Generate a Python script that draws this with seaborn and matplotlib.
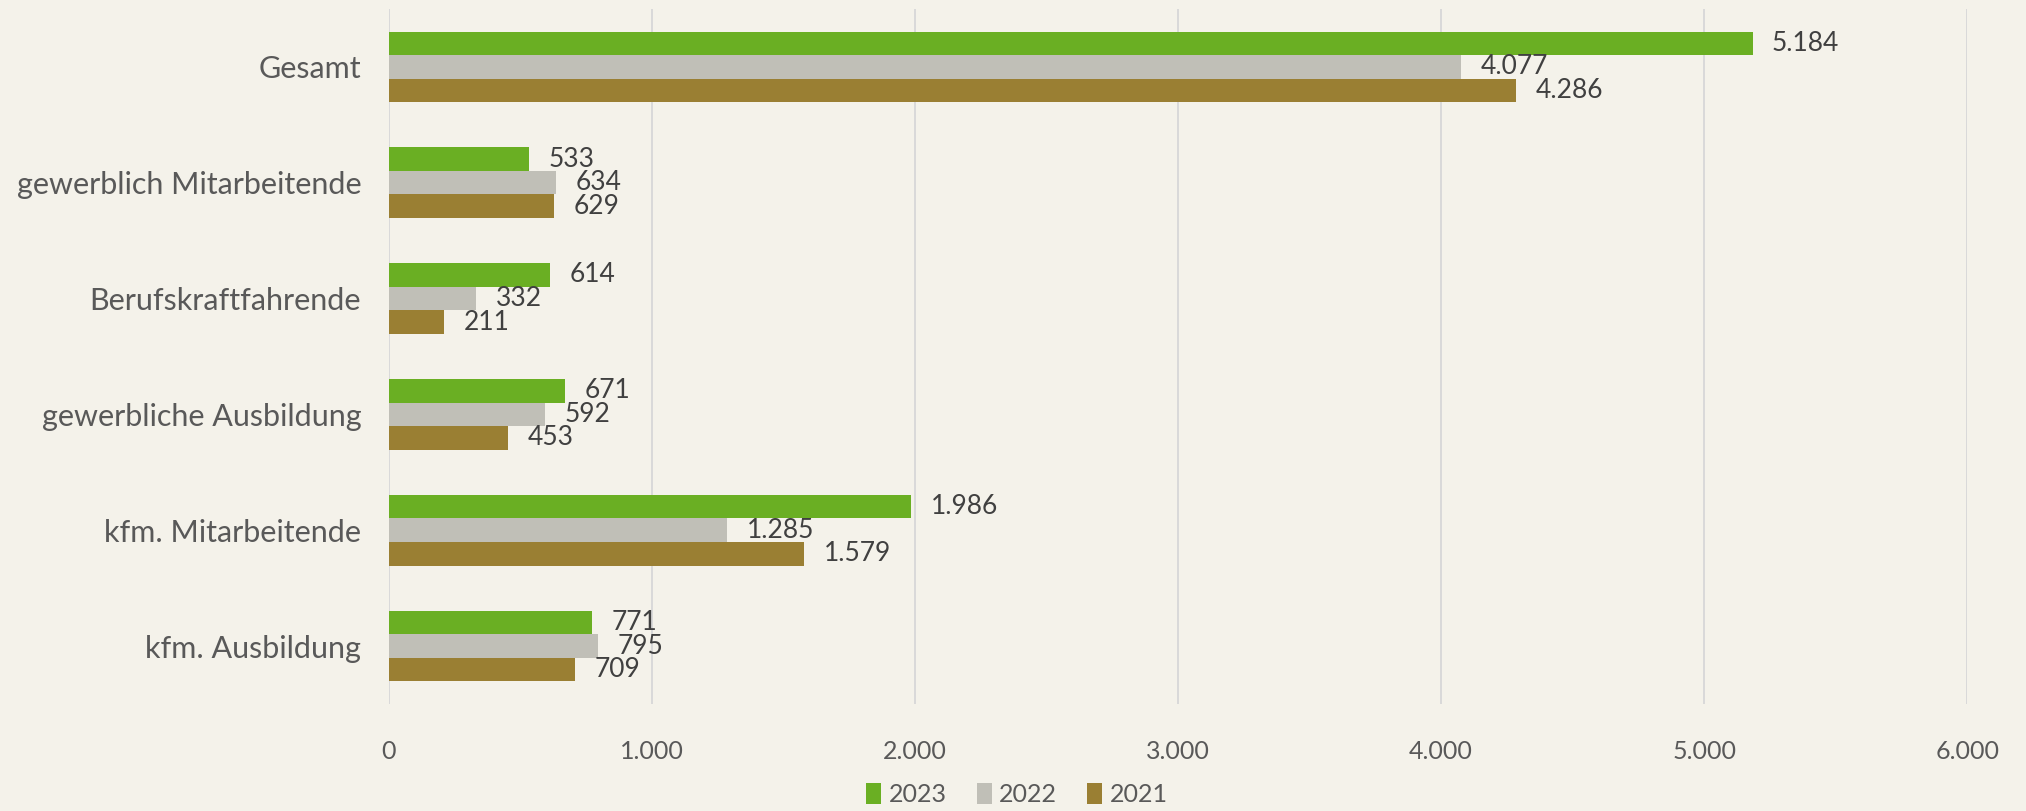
import pandas as pd
import matplotlib.pyplot as plt
import seaborn as sns

# data
categories = ['Gesamt', 'gewerblich Mitarbeitende', 'Berufskraftfahrende',
              'gewerbliche Ausbildung', 'kfm. Mitarbeitende', 'kfm. Ausbildung']
years = ['2023', '2022', '2021']
v2023 = [5184, 533, 614, 671, 1986, 771]
v2022 = [4077, 634, 332, 592, 1285, 795]
v2021 = [4286, 629, 211, 453, 1579, 709]
xticks = [0, 1000, 2000, 3000, 4000, 5000, 6000]

colors = ['#6AAF23', '#C0BFB7', '#9A7F33']
bg = '#F4F2EA'

rows = []
for year, vals in zip(years, [v2023, v2022, v2021]):
    for cat, v in zip(categories, vals):
        rows.append({'Kategorie': cat, 'Jahr': year, 'Wert': v})
df = pd.DataFrame(rows)

sns.set_style('white')
plt.rcParams['font.family'] = ['Lato', 'DejaVu Sans']

fig = plt.figure(figsize=(20.26, 8.11), dpi=100, facecolor=bg)
ax = fig.add_axes([0.192, 0.132, 0.779, 0.857])
ax.set_facecolor(bg)

sns.barplot(data=df, x='Wert', y='Kategorie', hue='Jahr', order=categories,
            hue_order=years, palette=colors, saturation=1, orient='h',
            width=0.61, gap=0, ax=ax, edgecolor='none', linewidth=0, errorbar=None)

def fmt(v):
    return f'{int(v):,}'.replace(',', '.')

for cont in ax.containers:
    ax.bar_label(cont, labels=[fmt(b.get_width()) for b in cont],
                 padding=14, fontsize=19, color='#404040')

ax.set_xlim(0, 6000)
ax.set_xticks(xticks)
ax.set_xticklabels([fmt(t) for t in xticks])
ax.grid(axis='x', color='#D9D9D9', linewidth=1.4)
ax.set_axisbelow(True)
for s in ax.spines.values():
    s.set_visible(False)
ax.tick_params(axis='both', length=0, colors='#595959')
ax.tick_params(axis='x', labelsize=18, pad=26)
ax.tick_params(axis='y', labelsize=22, pad=20)
ax.set_xlabel('')
ax.set_ylabel('')

ax.legend(loc='lower center', bbox_to_anchor=(0.502, -0.022), bbox_transform=fig.transFigure,
          ncol=3, frameon=False, fontsize=18, handlelength=0.6, handleheight=0.9,
          handletextpad=0.3, columnspacing=1.2, labelcolor='#595959')

fig.savefig('out.png', dpi=100, facecolor=bg)
